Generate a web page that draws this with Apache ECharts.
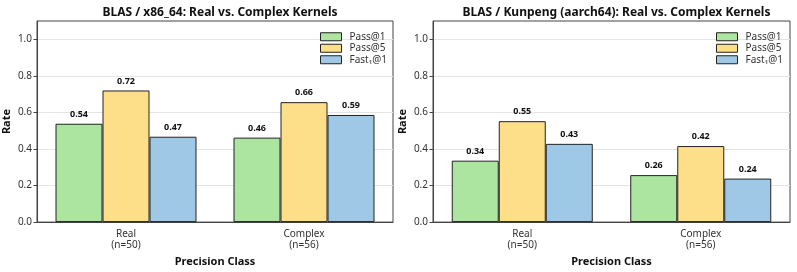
<!DOCTYPE html>
<html>
<head>
<meta charset="utf-8">
<script src="https://cdn.jsdelivr.net/npm/echarts@6/dist/echarts.min.js"></script>
<style>
  html, body { margin: 0; padding: 0; background: #fff; }
  #chart { width: 797px; height: 272px; }
</style>
</head>
<body>
<div id="chart"></div>
<script>
const categories = ['Real\n(n=50)', 'Complex\n(n=56)'];
const seriesNames = ['Pass@1', 'Pass@5', 'Fast₁@1'];
const colors = ['#abe5a0', '#fddf8a', '#9fc8e7'];
const yTicks = [0, 0.2, 0.4, 0.6, 0.8, 1.0];

// x86_64 panel
const x86Pass1 = [0.538, 0.462];
const x86Pass5 = [0.72, 0.656];
const x86Fast1 = [0.467, 0.586];

// Kunpeng panel
const armPass1 = [0.336, 0.257];
const armPass5 = [0.552, 0.416];
const armFast1 = [0.428, 0.238];

const panels = [
  { title: 'BLAS / x86_64: Real vs. Complex Kernels', data: [x86Pass1, x86Pass5, x86Fast1], left: 37, width: 356 },
  { title: 'BLAS / Kunpeng (aarch64): Real vs. Complex Kernels', data: [armPass1, armPass5, armFast1], left: 433, width: 357 }
];

const font = '"Noto Sans", "Open Sans", sans-serif';

const chart = echarts.init(document.getElementById('chart'));

const option = {
  animation: false,
  textStyle: { fontFamily: font },
  title: panels.map(p => ({
    text: p.title,
    left: p.left + p.width / 2,
    textAlign: 'center',
    top: 2,
    textStyle: { fontSize: 12, fontWeight: 'bold', color: '#111', fontFamily: font }
  })),
  legend: panels.map(p => ({
    data: seriesNames,
    orient: 'vertical',
    left: p.left + 278,
    top: 26,
    itemWidth: 21,
    itemHeight: 8,
    itemGap: 0,
    icon: 'rect',
    itemStyle: { borderWidth: 1, borderColor: '#222' },
    textStyle: { fontSize: 10, color: '#333', fontFamily: font, lineHeight: 11.5, padding: [0, 0, 0, 3] }
  })),
  grid: panels.map(p => ({
    left: p.left,
    top: 21,
    width: p.width,
    height: 205,
    show: true,
    borderColor: '#444',
    borderWidth: 1,
    backgroundColor: 'transparent'
  })),
  xAxis: panels.map((p, i) => ({
    type: 'category',
    gridIndex: i,
    data: categories,
    name: 'Precision Class',
    nameLocation: 'middle',
    nameGap: 31,
    nameTextStyle: { fontSize: 11, fontWeight: 'bold', color: '#111' },
    axisLine: { lineStyle: { color: '#444', width: 1 } },
    axisTick: { alignWithLabel: true, length: 3.5, lineStyle: { color: '#444' } },
    axisLabel: { fontSize: 10, color: '#333', lineHeight: 11.5, margin: 6 }
  })),
  yAxis: panels.map((p, i) => ({
    type: 'value',
    gridIndex: i,
    min: 0,
    max: 1.1,
    interval: 0.2,
    name: 'Rate',
    nameLocation: 'middle',
    nameGap: 25,
    nameTextStyle: { fontSize: 11, fontWeight: 'bold', color: '#111' },
    axisLine: { show: true, lineStyle: { color: '#444', width: 1 } },
    axisTick: { show: true, length: 3.5, customValues: yTicks, lineStyle: { color: '#444' } },
    axisLabel: { fontSize: 10, color: '#333', margin: 5, customValues: yTicks, formatter: v => v.toFixed(1) },
    splitLine: { show: true, lineStyle: { color: '#e4e4e4', width: 1 } }
  })),
  series: []
};

panels.forEach((p, i) => {
  seriesNames.forEach((name, k) => {
    option.series.push({
      name: name,
      type: 'bar',
      xAxisIndex: i,
      yAxisIndex: i,
      data: p.data[k],
      barWidth: 47,
      barGap: '0%',
      itemStyle: { color: colors[k], borderColor: '#222', borderWidth: 1 },
      label: {
        show: true,
        position: 'top',
        distance: 5,
        fontSize: 9,
        fontWeight: 'bold',
        color: '#111',
        formatter: d => d.value.toFixed(2)
      }
    });
  });
});

chart.setOption(option);
</script>
</body>
</html>
